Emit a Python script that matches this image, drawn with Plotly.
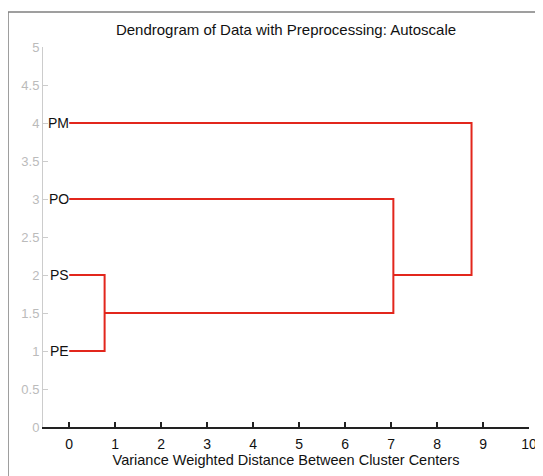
import plotly.graph_objects as go

# ---- data ----
leaf_names = ["PE", "PS", "PO", "PM"]
leaf_pos = [1, 2, 3, 4]
# links: children node ids (0-3 leaves, 4.. links), merge distance, position of new node
link_left = [0, 4, 5]
link_right = [1, 2, 3]
link_height = [0.77, 7.05, 8.75]
link_node_pos = [1.5, 2.0, 3.0]

x_ticks = list(range(0, 11))
y_ticks = [0, 0.5, 1, 1.5, 2, 2.5, 3, 3.5, 4, 4.5, 5]
y_tick_text = ["0", "0.5", "1", "1.5", "2", "2.5", "3", "3.5", "4", "4.5", "5"]

# ---- build dendrogram path ----
n = len(leaf_names)
node_h = [0.0] * n
node_y = list(leaf_pos)
xs, ys = [], []
for a, b, h, p in zip(link_left, link_right, link_height, link_node_pos):
    xs += [node_h[a], h, h, node_h[b], None]
    ys += [node_y[a], node_y[a], node_y[b], node_y[b], None]
    node_h.append(h)
    node_y.append(p)

FONT = "Liberation Sans, Arial"
W, H = 535, 468

fig = go.Figure()
fig.add_trace(go.Scatter(x=xs, y=ys, mode="lines",
                         line=dict(color="#e2261c", width=2),
                         hoverinfo="skip", showlegend=False))

for name, pos in zip(leaf_names, leaf_pos):
    fig.add_annotation(x=0, y=pos, text=name, showarrow=False,
                       xanchor="right", yanchor="middle", xshift=2,
                       font=dict(family=FONT, size=14, color="#111111"))

# outer frame
fig.add_shape(type="rect", xref="paper", yref="paper",
              x0=-0.072, x1=1.3, y0=-0.4, y1=1.092,
              line=dict(color="#808080", width=1.5), layer="below")

fig.update_layout(
    width=W, height=H,
    margin=dict(l=35, r=14, t=39, b=49),
    paper_bgcolor="white", plot_bgcolor="white",
    title=dict(text="Dendrogram of Data with Preprocessing: Autoscale",
               x=0.5, xanchor="center", xref="paper",
               y=1 - 22 / H, yanchor="middle",
               font=dict(family=FONT, size=15, color="#111111")),
    font=dict(family=FONT, size=14, color="#111111"),
    xaxis=dict(range=[-0.57, 10.0], tickvals=x_ticks, automargin=False,
               showgrid=False, zeroline=False, showline=True,
               linecolor="#222222", linewidth=1.5,
               ticks="inside", ticklen=5, tickcolor="#222222", tickwidth=1.5,
               ticklabelstandoff=3,
               tickfont=dict(size=14, color="#111111"),
               title=dict(text="Variance Weighted Distance Between Cluster Centers",
                          font=dict(size=14.5, color="#111111"), standoff=2)),
    yaxis=dict(range=[0, 5], tickvals=y_ticks, ticktext=y_tick_text, automargin=False,
               showgrid=False, zeroline=False, showline=True,
               linecolor="#cccccc", linewidth=1,
               ticks="inside", ticklen=5, tickcolor="#cccccc",
               tickfont=dict(size=13, color="#bbbbbb")),
)

fig.write_html("out.html")
